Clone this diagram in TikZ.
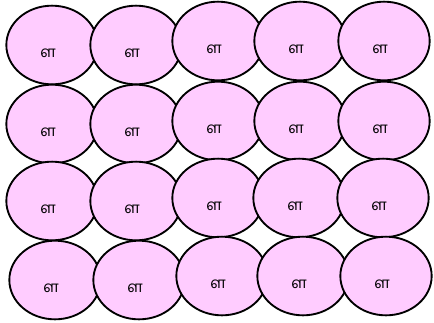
\documentclass[tikz,border=0pt]{standalone}
\usepackage{fontspec}
\newfontfamily\tamilfont[Script=Tamil]{Hind Madurai}
\usepackage{tikz}
\usetikzlibrary{shapes.geometric}
\definecolor{CellPink}{RGB}{255, 204, 255}

\tikzset{
  cell/.style={ellipse, draw=black, line width=1.4pt, fill=CellPink,
               minimum width=68.5pt, minimum height=59pt, inner sep=0pt},
  letter/.style={font=\tamilfont\fontsize{11.5}{13}\selectfont, inner sep=0pt}
}

\begin{document}
\begin{tikzpicture}[x=0.75pt, y=-0.75pt]
  \useasboundingbox (0,0) rectangle (434,322);
  % four rows of five cells
  \foreach \cx/\cy/\name in {52/45/r1c1, 136/45/r1c2, 218/41/r1c3, 300/41/r1c4, 384/41/r1c5,
                             52/124/r2c1, 136/124/r2c2, 218/121/r2c3, 300/121/r2c4, 384/121/r2c5,
                             52/201/r3c1, 136/201/r3c2, 218/198/r3c3, 299/198/r3c4, 383/198/r3c5,
                             55/280/r4c1, 139/280/r4c2, 222/276/r4c3, 303/276/r4c4, 386/276/r4c5} {
    \node[cell, label={[letter, xshift=-3pt, yshift=-6pt]center:ள}] (\name) at (\cx,\cy) {};
  }
\end{tikzpicture}
\end{document}
